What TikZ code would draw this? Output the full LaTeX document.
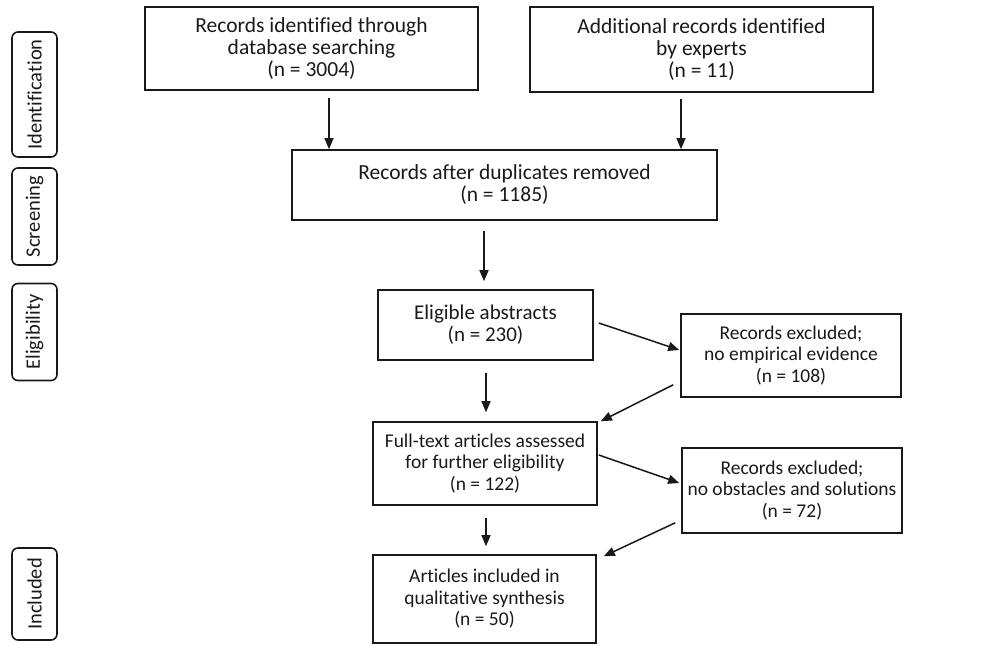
\documentclass[tikz,border=0pt]{standalone}
\usepackage{fontspec}
\setmainfont[Ligatures=NoCommon]{Carlito}
\usetikzlibrary{arrows.meta}
\begin{document}
\begin{tikzpicture}[x=1pt,y=-1pt,
  box/.style={draw=black!90, line width=1.6pt, align=center, inner sep=0pt,
    font=\fontsize{19.5}{21.5}\selectfont, text=black!90},
  bigbox/.style={box, font=\fontsize{21.5}{22}\selectfont},
  phase/.style={draw=black!90, line width=1.6pt, rounded corners=6pt, inner sep=0pt,
    minimum height=45pt, font=\fontsize{20.5}{22}\selectfont, text=black!90, rotate=90},
  arr/.style={line width=1.5pt, draw=black!90, -{Triangle[length=11pt,width=9pt]}}]
\useasboundingbox (0,0) rectangle (1008,645);

% phase labels
\node[phase, minimum width=125pt] (l1) at (34.5,94.5) {Identification};
\node[phase, minimum width=97pt] (l2) at (34.5,216.5) {Screening};
\node[phase, minimum width=97pt] (l3) at (34.5,332) {Eligibility};
\node[phase, minimum width=92pt] (l4) at (34.5,594) {Included};

% boxes
\node[bigbox, minimum width=333pt, minimum height=83pt] (b1) at (311.5,48.5)
  {Records identified through\\database searching\\(n = 3004)};
\node[bigbox, minimum width=343pt, minimum height=85pt] (b2) at (701.5,49.5)
  {Additional records identified\\by experts\\(n = 11)};
\node[bigbox, minimum width=425pt, minimum height=70pt] (b3) at (504.5,185)
  {Records after duplicates removed\\(n = 1185)};
\node[box, font=\fontsize{21}{22}\selectfont, minimum width=215pt, minimum height=70pt] (b4) at (485.5,325)
  {Eligible abstracts\\(n = 230)};
\node[box, minimum width=224pt, minimum height=83pt] (b5) at (485,463.5)
  {Full-text articles assessed\\for further eligibility\\(n = 122)};
\node[box, minimum width=223pt, minimum height=88pt] (b6) at (484.5,599)
  {Articles included in\\qualitative synthesis\\(n = 50)};
\node[box, minimum width=220pt, minimum height=83pt] (x1) at (791,355.5)
  {Records excluded;\\no empirical evidence\\(n = 108)};
\node[box, minimum width=220pt, minimum height=85pt] (x2) at (792,490.5)
  {Records excluded;\\no obstacles and solutions\\(n = 72)};

% arrow columns
\coordinate (c1) at (329,0);
\coordinate (c2) at (681,0);
\coordinate (c3) at (484,0);
\coordinate (c4) at (486,0);

\draw[arr, shorten <=7pt] (b1.south -| c1) -- (b3.north -| c1);
\draw[arr, shorten <=6pt] (b2.south -| c2) -- (b3.north -| c2);
\draw[arr, shorten <=10pt, shorten >=8pt] (b3.south -| c3) -- (b4.north -| c3);
\draw[arr, shorten <=12pt, shorten >=9pt] (b4.south -| c4) -- (b5.north -| c4);
\draw[arr, shorten <=12pt, shorten >=8pt] (b5.south -| c4) -- (b6.north -| c4);

\draw[arr] ([xshift=5pt,yshift=2pt]b4.east) -- ([xshift=-1pt,yshift=5.5pt]x1.west);
\draw[arr] ([xshift=-7pt,yshift=13pt]x1.south west) -- ([xshift=3pt]b5.north east);
\draw[arr] ([xshift=1pt,yshift=8.5pt]b5.east) -- ([xshift=-2pt,yshift=7.5pt]x2.west);
\draw[arr] ([xshift=-6pt,yshift=11pt]x2.south west) -- ([xshift=7pt,yshift=-2pt]b6.north east);
\end{tikzpicture}
\end{document}
